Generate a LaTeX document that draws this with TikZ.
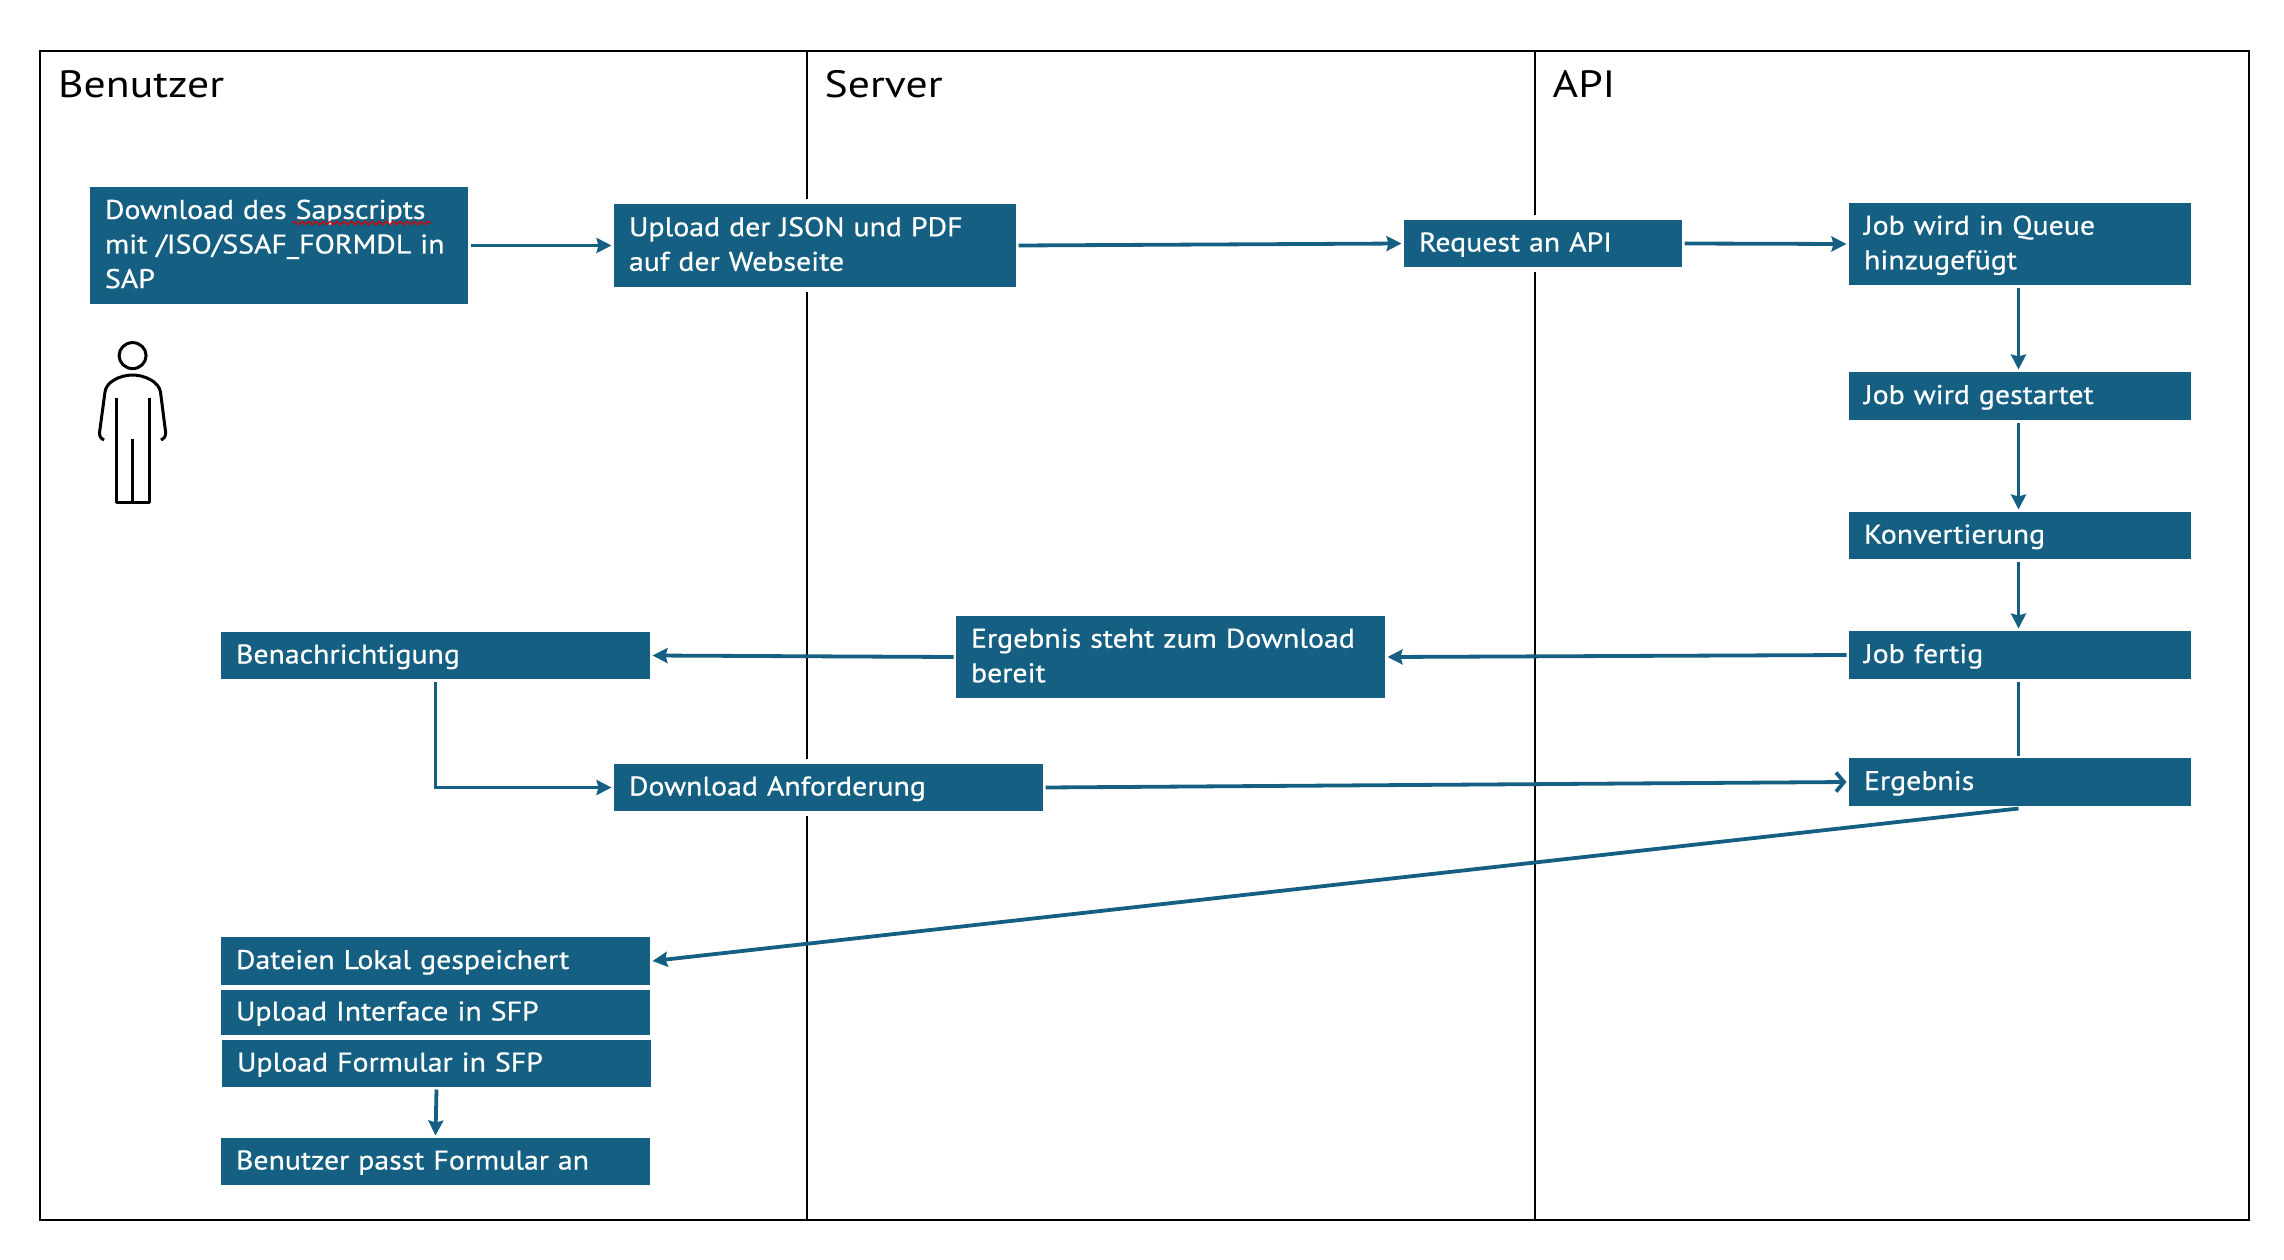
\documentclass[tikz,border=0pt]{standalone}
\usepackage{fontspec}
\setmainfont{PT Sans}[FakeStretch=1.105,FakeBold=0.6]
\newfontfamily\headfont{PT Sans}[FakeStretch=1.15]
\usetikzlibrary{arrows.meta,decorations.pathmorphing}
\definecolor{teal}{HTML}{156082}
\tikzset{
  box/.style={fill=teal,draw=white,line width=5pt,outer sep=0pt,inner ysep=0pt,inner xsep=17.5pt,text=white,align=left,font=\fontsize{27}{34.6}\selectfont},
  lanehead/.style={anchor=base west,inner sep=0pt,font=\headfont\fontsize{38}{44}\selectfont,text=black},
  lane/.style={draw=black,line width=2pt},
  frame/.style={draw=black,line width=2.6pt},
  flow/.style={draw=teal,line width=3.8pt,-{Stealth[length=15pt,width=15pt,inset=2pt]}},
  plainflow/.style={draw=teal,line width=3.8pt},
  openflow/.style={draw=teal,line width=3.8pt,-{Straight Barb[length=8pt,width=19pt]}},
  person/.style={draw=black,line width=3pt,line join=round}
}
\newcommand{\bx}[6]{%
  \pgfmathsetmacro{\bw}{#4-#2}\pgfmathsetmacro{\bh}{#5-#3}%
  \node[box,minimum width=\bw pt+5pt,minimum height=\bh pt+5pt,text width=\bw pt-30pt]
    (#1) at ({(#2+#4)/2},{(#3+#5)/2}) {\rule{0pt}{23pt}#6\rule[-7pt]{0pt}{7pt}};}
\begin{document}
\begin{tikzpicture}[x=1pt,y=-1pt]
\useasboundingbox (0,0) rectangle (2284,1260);
% swimlanes
\coordinate (ftl) at (40,51);
\coordinate (fbr) at (2249,1220);
\coordinate (l1t) at (807,51);
\coordinate (l1b) at (807,1220);
\coordinate (l2t) at (1535,51);
\coordinate (l2b) at (1535,1220);
\draw[lane] (l1t) -- (l1b);
\draw[lane] (l2t) -- (l2b);
\draw[frame] (ftl) rectangle (fbr);
\node[lanehead] (hb) at (58,98) {Benutzer};
\node[lanehead] (hs) at (824.5,98) {Server};
\node[lanehead] (ha) at (1552.5,98) {API};
% boxes
\bx{dl}{90}{187}{468}{304}{Download des Sapscripts\\mit /ISO/SSAF\_FORMDL in\\SAP}
\bx{up}{614}{204}{1016}{287}{Upload der JSON und PDF\\auf der Webseite}
\bx{req}{1404}{220}{1682}{267}{Request an API}
\bx{queue}{1849}{203}{2191}{285}{Job wird in Queue\\hinzugefügt}
\bx{start}{1849}{372}{2191}{420}{Job wird gestartet}
\bx{konv}{1849}{512}{2191}{559}{Konvertierung}
\bx{fertig}{1849}{631}{2191}{679}{Job fertig}
\bx{erg}{1849}{758}{2191}{806}{Ergebnis}
\bx{steht}{956}{616}{1385}{698}{Ergebnis steht zum Download\\bereit}
\bx{ben}{221}{632}{650}{679}{Benachrichtigung}
\bx{dla}{614}{764}{1043}{811}{Download Anforderung}
\bx{dat}{221}{937}{650}{985}{Dateien Lokal gespeichert}
\bx{ui}{221}{990}{650}{1035}{Upload Interface in SFP}
\bx{uf}{222}{1040}{651}{1087}{Upload Formular in SFP}
\bx{bp}{221}{1138}{650}{1185}{Benutzer passt Formular an}
% spell-check squiggle
\draw[red!85!black,line width=1.3pt,decorate,decoration={snake,amplitude=1.8pt,segment length=7pt}] (293,223) -- (431,223);
% connectors
\draw[flow] (dl.east) -- (up.west);
\draw[flow] (up.east) -- (req.west);
\draw[flow] (req.east) -- (queue.west);
\draw[flow] ([xshift=-1.5pt]queue.south) -- ([xshift=-1.5pt]start.north);
\draw[flow] ([xshift=-1.5pt]start.south) -- ([xshift=-1.5pt]konv.north);
\draw[flow] ([xshift=-1.5pt]konv.south) -- ([xshift=-1.5pt]fertig.north);
\draw[plainflow] ([xshift=-1.5pt]fertig.south) -- ([xshift=-1.5pt]erg.north);
\draw[flow] (fertig.west) -- (steht.east);
\draw[flow] (steht.west) -- (ben.east);
\draw[flow] (ben.south) |- (dla.west);
\draw[openflow] (dla.east) -- (erg.west);
\draw[flow] ([xshift=-1.5pt]erg.south) -- (dat.east);
\draw[flow] (uf.south) -- (bp.north);
% person
\draw[person] (132.6,355.6) ellipse (13.5 and 13);
\draw[person] (104,440) .. controls (100,438) and (99.5,436) .. (99.6,432) -- (105,392)
  .. controls (106,382) and (120,375) .. (132.6,375)
  .. controls (145,375) and (159,382) .. (160.5,392) -- (165.6,432)
  .. controls (165.7,436) and (165,438) .. (161,440);
\draw[person] (116,398) -- (116,502) -- (149,502) -- (149,398);
\draw[person] (132.6,439) -- (132.6,502);
\end{tikzpicture}
\end{document}
